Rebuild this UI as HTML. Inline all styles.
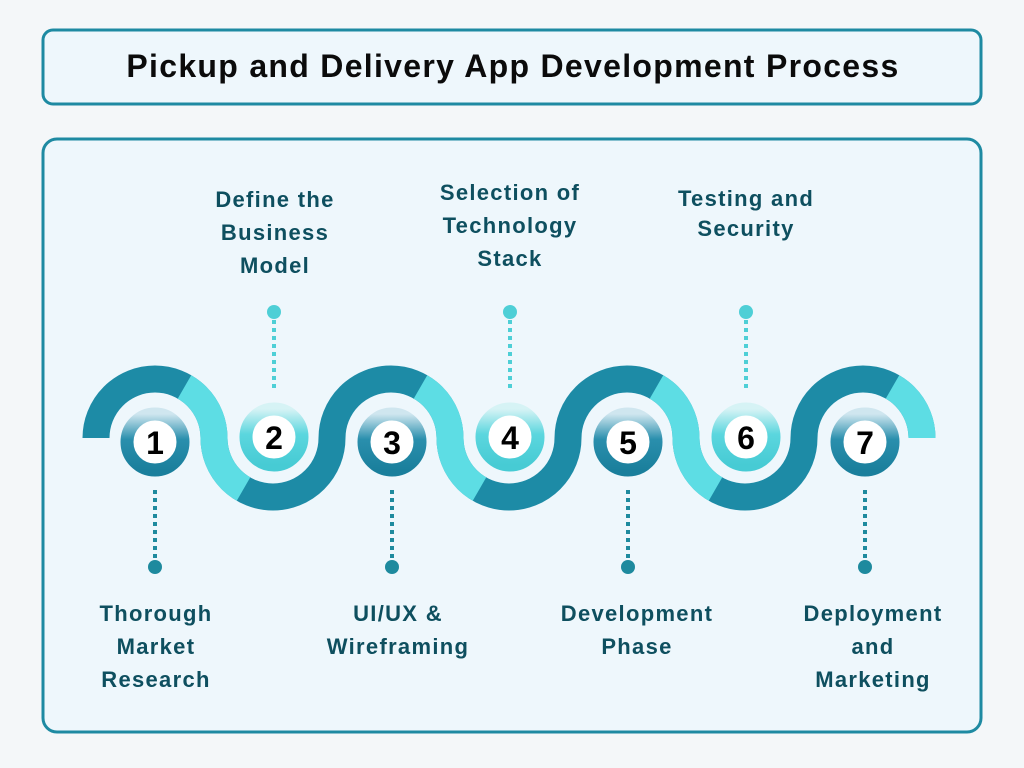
<!DOCTYPE html>
<html><head><meta charset="utf-8"><style>
body{margin:0;width:1024px;height:768px;background:#f4f7f9;overflow:hidden}
svg{display:block}
text{font-family:"Liberation Sans","DejaVu Sans",sans-serif;font-weight:bold}
</style></head><body>
<svg width="1024" height="768" viewBox="0 0 1024 768">
<defs>
<linearGradient id="dk" x1="0" y1="0" x2="0" y2="1"><stop offset="0" stop-color="#cfe6ef"/><stop offset="0.45" stop-color="#2a8fad"/><stop offset="1" stop-color="#1a7f9c"/></linearGradient>
<linearGradient id="lt" x1="0" y1="0" x2="0" y2="1"><stop offset="0" stop-color="#d6f3f5"/><stop offset="0.45" stop-color="#5bd6de"/><stop offset="1" stop-color="#47cbd4"/></linearGradient>
</defs>
<rect x="43" y="30" width="938" height="74" rx="10" fill="#eef7fc" stroke="#1e8aa2" stroke-width="3"/>
<text x="513" y="77" font-size="32" letter-spacing="1.3" text-anchor="middle" fill="#0b0b0b">Pickup and Delivery App Development Process</text>
<rect x="43" y="139" width="938" height="593" rx="14" fill="#eef7fc" stroke="#1e8aa2" stroke-width="3"/>
<g fill="none" stroke-width="27">
<path d="M96 438 A59 59 0 0 1 214 438 A59 59 0 0 0 332 438 A59 59 0 0 1 450 438 A59 59 0 0 0 568 438 A59 59 0 0 1 686 438 A59 59 0 0 0 804 438 A59 59 0 0 1 922 438" stroke="#1d8ba6"/>
<g stroke="#5ddde4">
<path d="M184.5 386.9 A59 59 0 0 1 214 438 A59 59 0 0 0 243.5 489.1"/>
<path d="M420.5 386.9 A59 59 0 0 1 450 438 A59 59 0 0 0 479.5 489.1"/>
<path d="M656.5 386.9 A59 59 0 0 1 686 438 A59 59 0 0 0 715.5 489.1"/>
<path d="M892.5 386.9 A59 59 0 0 1 922 438"/>
</g>
</g>
<g stroke-width="4" stroke-dasharray="4 4">
<line x1="155" y1="490" x2="155" y2="560" stroke="#1e8a9e"/>
<line x1="392" y1="490" x2="392" y2="560" stroke="#1e8a9e"/>
<line x1="628" y1="490" x2="628" y2="560" stroke="#1e8a9e"/>
<line x1="865" y1="490" x2="865" y2="560" stroke="#1e8a9e"/>
<line x1="274" y1="320" x2="274" y2="390" stroke="#4ecfd6"/>
<line x1="510" y1="320" x2="510" y2="390" stroke="#4ecfd6"/>
<line x1="746" y1="320" x2="746" y2="390" stroke="#4ecfd6"/>
</g>
<g fill="#1e8a9e"><circle cx="155" cy="567" r="7"/><circle cx="392" cy="567" r="7"/><circle cx="628" cy="567" r="7"/><circle cx="865" cy="567" r="7"/></g>
<g fill="#4ecfd6"><circle cx="274" cy="312" r="7"/><circle cx="510" cy="312" r="7"/><circle cx="746" cy="312" r="7"/></g>
<g>
<circle cx="155" cy="442" r="28" fill="#fff" stroke="url(#dk)" stroke-width="13"/>
<circle cx="392" cy="442" r="28" fill="#fff" stroke="url(#dk)" stroke-width="13"/>
<circle cx="628" cy="442" r="28" fill="#fff" stroke="url(#dk)" stroke-width="13"/>
<circle cx="865" cy="442" r="28" fill="#fff" stroke="url(#dk)" stroke-width="13"/>
<circle cx="274" cy="437" r="28" fill="#fff" stroke="url(#lt)" stroke-width="13"/>
<circle cx="510" cy="437" r="28" fill="#fff" stroke="url(#lt)" stroke-width="13"/>
<circle cx="746" cy="437" r="28" fill="#fff" stroke="url(#lt)" stroke-width="13"/>
</g>
<g font-size="32" text-anchor="middle" fill="#000">
<text x="155" y="454">1</text><text x="274" y="449">2</text><text x="392" y="454">3</text><text x="510" y="449">4</text><text x="628" y="454">5</text><text x="746" y="449">6</text><text x="865" y="454">7</text>
</g>
<g font-size="22" letter-spacing="1.3" text-anchor="middle" fill="#0e4f5f">
<text x="275" y="207">Define the</text><text x="275" y="240">Business</text><text x="275" y="273">Model</text>
<text x="510" y="200">Selection of</text><text x="510" y="233">Technology</text><text x="510" y="266">Stack</text>
<text x="746" y="206">Testing and</text><text x="746" y="236">Security</text>
<text x="156" y="621">Thorough</text><text x="156" y="654">Market</text><text x="156" y="687">Research</text>
<text x="398" y="621">UI/UX &amp;</text><text x="398" y="654">Wireframing</text>
<text x="637" y="621">Development</text><text x="637" y="654">Phase</text>
<text x="873" y="621">Deployment</text><text x="873" y="654">and</text><text x="873" y="687">Marketing</text>
</g>
</svg>
</body></html>
